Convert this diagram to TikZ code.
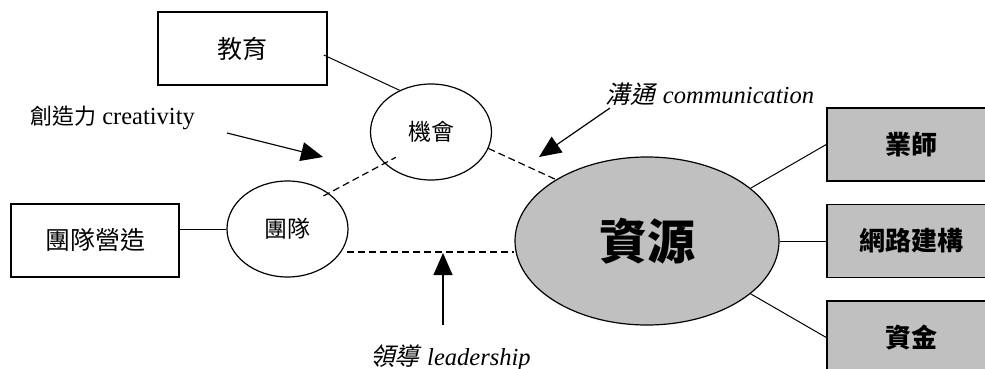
\documentclass[tikz,border=0pt]{standalone}
\usepackage{fontspec}
\setmainfont{Liberation Serif}
\newfontfamily\cjk{Noto Sans CJK TC}
\newfontfamily\cjkit{Noto Sans CJK TC}[FakeSlant=0.25]
\usetikzlibrary{arrows.meta,calc,shapes.geometric}
\definecolor{shade}{RGB}{192,192,192}
\begin{document}
\begin{tikzpicture}[x=1pt,y=-1pt,
  box/.style={draw,line width=1.5pt,inner sep=0pt,minimum width=169pt,minimum height=73pt,font=\cjk\fontsize{25}{29}\selectfont},
  gbox/.style={box,fill=shade,minimum width=168pt,font=\cjk\bfseries\fontsize{26}{30}\selectfont},
  oval/.style={ellipse,draw,line width=1.2pt,inner sep=0pt,minimum width=121pt,minimum height=96pt,font=\cjk\fontsize{23}{27}\selectfont},
  link/.style={line width=1pt},
  dlink/.style={line width=1.2pt,dash pattern=on 7pt off 4pt},
  push/.style={line width=1.2pt,-{Triangle[length=22pt,width=19pt]}},
  lab/.style={inner sep=0pt,font=\fontsize{24.5}{28}\selectfont}]
\useasboundingbox (0,0) rectangle (985,369);
\clip (0,0) rectangle (985,369);
% boxes
\node[box] (edu) at (242.5,48.5) {教育};
\node[box,minimum width=168pt] (teambox) at (95,240.5) {團隊營造};
\node[gbox] (b1) at (911,144.5) {業師};
\node[gbox] (b2) at (911,241) {網路建構};
\node[gbox] (b3) at (911,337.5) {資金};
% ellipses
\node[oval] (opp) at (431,132) {機會};
\node[oval] (teamell) at (287.5,229) {團隊};
\node[oval,fill=shade,minimum width=264pt,minimum height=168pt,font=\cjk\bfseries\fontsize{48}{50}\selectfont] (res) at (647,241) {資源};
% solid links
\draw[link] ([xshift=-4pt,yshift=-6.5pt]edu.east) -- (opp.127);
\draw[link] (teamell.west) -- (teamell.west -| teambox.east);
\draw[link] (res.27) -- (b1.west);
\draw[link] (res.east) -- (b2.west);
\draw[link] (res.333) -- (b3.west);
% dashed links
\draw[dlink,shorten <=-6pt,shorten >=-13pt] (teamell.41) -- (opp.214);
\draw[dlink] (opp.344) -- (res.146);
\coordinate (lh) at (347,252);
\draw[dlink] (lh) -- (lh -| res.west);
% labels
\node[lab,anchor=west] (cre) at (30,118) {{\cjk\fontsize{22}{26}\selectfont 創造力} creativity};
\node[lab,anchor=center] (com) at (710,94) {{\cjkit 溝通}\hspace{8pt}\textit{communication}};
\node[lab,anchor=base west] (lead) at (370,365) {{\cjkit 領導}\hspace{8pt}\textit{leadership}};
% arrows
\coordinate (c1) at (227,133); \coordinate (c2) at (323,157);
\draw[push] (c1) -- (c2);
\coordinate (m1) at (610,108); \coordinate (m2) at (539,157);
\draw[push] (m1) -- (m2);
\coordinate (l1) at (443,325); \coordinate (l2) at (443,253);
\draw[push] (l1) -- (l2);
\end{tikzpicture}
\end{document}
